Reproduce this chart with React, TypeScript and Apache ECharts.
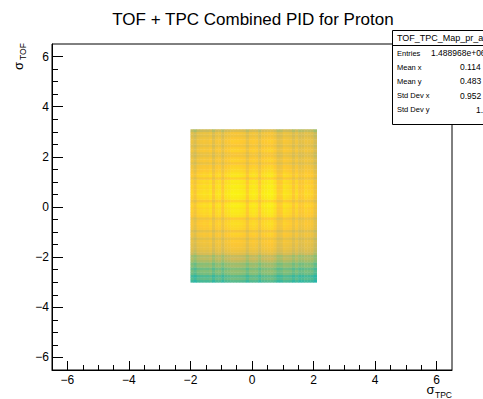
import React, { useEffect, useRef } from "react";
import * as echarts from "echarts";

// ---------- data ----------
const chartTitle = "TOF + TPC Combined PID for Proton";
const xTitle = { main: "σ", sub: "TPC" };
const yTitle = { main: "σ", sub: "TOF" };

const axisMin = -6.5;
const axisMax = 6.5;
const majorTicks = [-6, -4, -2, 0, 2, 4, 6];
const minorTicks = [
  -5.5, -5, -4.5, -3.5, -3, -2.5, -1.5, -1, -0.5, 0.5, 1, 1.5, 2.5, 3, 3.5, 4.5, 5, 5.5,
];

const binWidth = 0.1;
// lower edges of the filled bins along sigma_TPC
const xEdges = [
  -2.0, -1.9, -1.8, -1.7, -1.6, -1.5, -1.4, -1.3, -1.2, -1.1, -1.0, -0.9, -0.8, -0.7,
  -0.6, -0.5, -0.4, -0.3, -0.2, -0.1, 0.0, 0.1, 0.2, 0.3, 0.4, 0.5, 0.6, 0.7, 0.8, 0.9,
  1.0, 1.1, 1.2, 1.3, 1.4, 1.5, 1.6, 1.7, 1.8, 1.9, 2.0,
];
// column profile (relative colour level)
const xProfile = [
  0.93, 0.88, 0.94, 0.95, 0.96, 0.95, 0.97, 0.9, 0.96, 0.97, 0.91, 0.97, 0.98, 1.0,
  1.0, 1.0, 0.99, 0.98, 0.92, 0.98, 0.99, 0.98, 0.92, 0.98, 0.99, 1.0, 1.0, 0.97, 0.91,
  0.92, 0.97, 0.96, 0.95, 0.9, 0.95, 0.9, 0.91, 0.94, 0.93, 0.92, 0.86,
];
// lower edges of the filled bins along sigma_TOF
const yEdges = [
  -3.0, -2.9, -2.8, -2.7, -2.6, -2.5, -2.4, -2.3, -2.2, -2.1, -2.0, -1.9, -1.8, -1.7,
  -1.6, -1.5, -1.4, -1.3, -1.2, -1.1, -1.0, -0.9, -0.8, -0.7, -0.6, -0.5, -0.4, -0.3,
  -0.2, -0.1, 0.0, 0.1, 0.2, 0.3, 0.4, 0.5, 0.6, 0.7, 0.8, 0.9, 1.0, 1.1, 1.2, 1.3,
  1.4, 1.5, 1.6, 1.7, 1.8, 1.9, 2.0, 2.1, 2.2, 2.3, 2.4, 2.5, 2.6, 2.7, 2.8, 2.9, 3.0,
];
// row profile (relative colour level)
const yProfile = [
  0.56, 0.6, 0.57, 0.63, 0.65, 0.62, 0.68, 0.66, 0.72, 0.75, 0.73, 0.8, 0.83, 0.85,
  0.86, 0.87, 0.88, 0.84, 0.89, 0.9, 0.85, 0.91, 0.92, 0.93, 0.92, 0.88, 0.94, 0.95,
  0.96, 0.95, 0.97, 0.96, 0.91, 0.96, 0.97, 0.98, 0.97, 0.96, 0.97, 0.95, 0.96, 0.9,
  0.95, 0.94, 0.92, 0.91, 0.9, 0.86, 0.9, 0.89, 0.85, 0.86, 0.9, 0.89, 0.85, 0.88,
  0.89, 0.87, 0.84, 0.86, 0.78,
];

const statsName = "TOF_TPC_Map_pr_a";
const statsLabels = ["Entries", "Mean x", "Mean y", "Std Dev x", "Std Dev y"];
const statsValues = ["1.488968e+06", "0.114", "0.483", "0.952", "1."];

// ROOT kBird palette
const birdPalette = [
  "#352a87", "#0f5cdd", "#1481d6", "#06a4ca", "#2eb7a4",
  "#87bf77", "#d1bb59", "#fec832", "#f9fb0e",
];

const FONT = "'Liberation Sans', Arial, Helvetica, sans-serif";

export default function App() {
  const ref = useRef<HTMLDivElement>(null);

  useEffect(() => {
    document.body.style.margin = "0";
    if (!ref.current) return;
    const chart = echarts.init(ref.current, undefined, { renderer: "svg" });

    const cells: number[][] = [];
    xEdges.forEach((xv, i) => {
      yEdges.forEach((yv, j) => {
        cells.push([xv, yv, xProfile[i] * yProfile[j]]);
      });
    });

    const gridBox = { left: 52, top: 44, width: 400, height: 326 };

    const baseAxis = {
      type: "value" as const,
      min: axisMin,
      max: axisMax,
      splitLine: { show: false },
    };

    const option: any = {
      animation: false,
      backgroundColor: "#ffffff",
      grid: {
        ...gridBox,
        show: true,
        borderColor: "#000",
        borderWidth: 1,
        backgroundColor: "transparent",
        containLabel: false,
      },
      visualMap: {
        show: false,
        type: "continuous",
        min: 0,
        max: 1,
        dimension: 2,
        seriesIndex: 0,
        inRange: { color: birdPalette },
      },
      xAxis: [
        {
          ...baseAxis,
          position: "bottom",
          axisLine: { show: true, onZero: false, lineStyle: { color: "#000", width: 1 } },
          axisTick: {
            show: true,
            inside: true,
            length: 9,
            customValues: majorTicks,
            lineStyle: { color: "#000" },
          },
          axisLabel: {
            show: true,
            customValues: majorTicks,
            margin: 4,
            fontSize: 12,
            color: "#000",
            fontFamily: FONT,
            formatter: (v: number) => (v < 0 ? "\u2212" + Math.abs(v) : String(v)),
          },
        },
        {
          ...baseAxis,
          position: "bottom",
          offset: 0,
          axisLine: { show: false, onZero: false },
          axisTick: {
            show: true,
            inside: true,
            length: 5,
            customValues: minorTicks,
            lineStyle: { color: "#000" },
          },
          axisLabel: { show: false },
        },
      ],
      yAxis: [
        {
          ...baseAxis,
          position: "left",
          axisLine: { show: true, onZero: false, lineStyle: { color: "#000", width: 1 } },
          axisTick: {
            show: true,
            inside: true,
            length: 11,
            customValues: majorTicks,
            lineStyle: { color: "#000" },
          },
          axisLabel: {
            show: true,
            customValues: majorTicks,
            margin: 3,
            fontSize: 12,
            color: "#000",
            fontFamily: FONT,
            formatter: (v: number) => (v < 0 ? "\u2212" + Math.abs(v) : String(v)),
          },
        },
        {
          ...baseAxis,
          position: "left",
          offset: 0,
          axisLine: { show: false, onZero: false },
          axisTick: {
            show: true,
            inside: true,
            length: 6,
            customValues: minorTicks,
            lineStyle: { color: "#000" },
          },
          axisLabel: { show: false },
        },
      ],
      series: [
        {
          type: "custom",
          xAxisIndex: 0,
          yAxisIndex: 0,
          encode: { x: 0, y: 1 },
          data: cells,
          clip: true,
          renderItem: (params: any, api: any) => {
            const x0 = api.value(0);
            const y0 = api.value(1);
            const p1 = api.coord([x0, y0 + binWidth]);
            const p2 = api.coord([x0 + binWidth, y0]);
            const color = api.visual("color");
            return {
              type: "rect",
              shape: {
                x: p1[0],
                y: p1[1],
                width: p2[0] - p1[0] + 0.4,
                height: p2[1] - p1[1] + 0.4,
              },
              style: { fill: color, stroke: null },
            };
          },
        },
      ],
      graphic: [
        {
          type: "text",
          x: 253,
          y: 19,
          z: 100,
          style: {
            text: chartTitle,
            fontSize: 17,
            fontFamily: FONT,
            fill: "#000",
            align: "center",
            verticalAlign: "middle",
          },
        },
        // x axis title
        {
          type: "text",
          x: 434.5,
          y: 389.5,
          z: 100,
          style: {
            text: xTitle.main,
            fontSize: 13,
            fontFamily: FONT,
            fill: "#000",
            align: "right",
            verticalAlign: "middle",
          },
        },
        {
          type: "text",
          x: 452,
          y: 394.5,
          z: 100,
          style: {
            text: xTitle.sub,
            fontSize: 8.5,
            fontFamily: FONT,
            fill: "#000",
            align: "right",
            verticalAlign: "middle",
          },
        },
        // y axis title (rotated)
        {
          type: "group",
          x: 18,
          y: 70,
          rotation: Math.PI / 2,
          z: 100,
          children: [
            {
              type: "text",
              x: 0,
              y: 0,
              style: {
                text: yTitle.main,
                fontSize: 13,
                fontFamily: FONT,
                fill: "#000",
                align: "left",
                verticalAlign: "middle",
              },
            },
            {
              type: "text",
              x: 10,
              y: 5,
              style: {
                text: yTitle.sub,
                fontSize: 8.5,
                fontFamily: FONT,
                fill: "#000",
                align: "left",
                verticalAlign: "middle",
              },
            },
          ],
        },
        // stats box
        {
          type: "group",
          z: 200,
          children: [
            {
              type: "rect",
              shape: { x: 392.5, y: 30.5, width: 120, height: 94 },
              style: { fill: "#fff", stroke: "#000", lineWidth: 1 },
            },
            {
              type: "line",
              shape: { x1: 392.5, y1: 45.5, x2: 490, y2: 45.5 },
              style: { stroke: "#000", lineWidth: 1 },
            },
            {
              type: "text",
              x: 397,
              y: 38,
              style: {
                text: statsName,
                fontSize: 9,
                fontFamily: FONT,
                fill: "#000",
                align: "left",
                verticalAlign: "middle",
              },
            },
            ...statsLabels.map((lab, k) => ({
              type: "text",
              x: 397,
              y: 53 + k * 14.2,
              style: {
                text: lab,
                fontSize: 7.5,
                fontFamily: FONT,
                fill: "#000",
                align: "left",
                verticalAlign: "middle",
              },
            })),
            ...statsValues.map((val, k) => ({
              type: "text",
              x: k === 0 ? 431 : k === 4 ? 476 : 460,
              y: 53 + k * 14.2,
              style: {
                text: val,
                fontSize: 8.5,
                fontFamily: FONT,
                fill: "#000",
                align: "left",
                verticalAlign: "middle",
              },
            })),
          ],
        },
      ],
    };

    chart.setOption(option);
    return () => {
      chart.dispose();
    };
  }, []);

  return <div ref={ref} style={{ width: 483, height: 399 }} />;
}
